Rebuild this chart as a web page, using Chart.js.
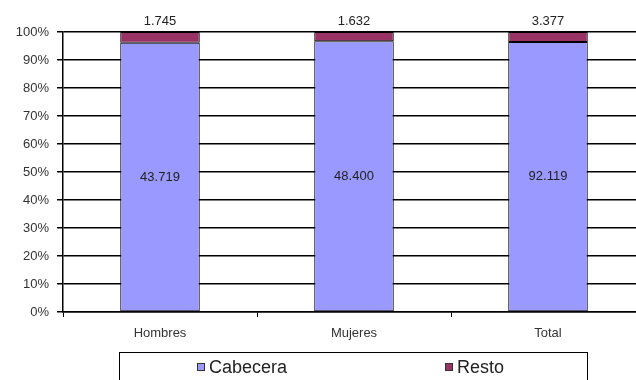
<!DOCTYPE html>
<html>
<head>
<meta charset="utf-8">
<script src="https://cdn.jsdelivr.net/npm/chart.js@4.4.1/dist/chart.umd.min.js"></script>
<style>
    html, body { margin: 0; padding: 0; background: #fff; overflow: hidden; }
    canvas { display: block; }
</style>
</head>
<body>
<canvas id="chartPoblacion" width="660" height="380"></canvas>
<script>
const categorias = ['Hombres', 'Mujeres', 'Total'];
const cabecera = [43719, 48400, 92119];
const resto = [1745, 1632, 3377];
const ticksY = [0, 10, 20, 30, 40, 50, 60, 70, 80, 90, 100];

const fuente = '"Liberation Sans", Arial, sans-serif';

function formatoMiles(n) {
    return String(n).replace(/\B(?=(\d{3})+(?!\d))/g, '.');
}

function porcentaje(serie) {
    return serie.map((v, i) => v / (cabecera[i] + resto[i]) * 100);
}

// etiquetas de valor: cabecera al centro, resto encima de la barra
const etiquetasPlugin = {
    id: 'etiquetas',
    afterDatasetsDraw(chart) {
        const ctx = chart.ctx;
        ctx.save();
        ctx.font = '13px ' + fuente;
        ctx.fillStyle = '#222';
        ctx.textAlign = 'center';
        ctx.textBaseline = 'middle';
        chart.getDatasetMeta(0).data.forEach((bar, i) => {
            ctx.fillText(formatoMiles(cabecera[i]), bar.x, (bar.y + bar.base) / 2);
        });
        chart.getDatasetMeta(1).data.forEach((bar, i) => {
            ctx.fillText(formatoMiles(resto[i]), bar.x, bar.y - 11);
        });
        ctx.restore();
    }
};

// leyenda con recuadro, como en el original
const leyendaPlugin = {
    id: 'leyendaCaja',
    afterDraw(chart) {
        const ctx = chart.ctx;
        ctx.save();
        ctx.fillStyle = '#fff';
        ctx.fillRect(119.5, 352.5, 468, 60);
        ctx.strokeStyle = '#000';
        ctx.lineWidth = 1;
        ctx.strokeRect(119.5, 352.5, 468, 60);

        const items = [
            { x: 197, texto: 'Cabecera', color: '#9999FF' },
            { x: 445, texto: 'Resto', color: '#993366' }
        ];
        ctx.font = '18px ' + fuente;
        ctx.textBaseline = 'middle';
        ctx.textAlign = 'left';
        items.forEach(it => {
            ctx.fillStyle = it.color;
            ctx.fillRect(it.x + 0.5, 363.5, 7, 7);
            ctx.strokeStyle = '#333';
            ctx.strokeRect(it.x + 0.5, 363.5, 7, 7);
            ctx.fillStyle = '#222';
            ctx.fillText(it.texto, it.x + 12, 368);
        });
        ctx.restore();
    }
};

new Chart(document.getElementById('chartPoblacion'), {
    type: 'bar',
    data: {
        labels: categorias,
        datasets: [
            {
                label: 'Cabecera',
                data: porcentaje(cabecera),
                backgroundColor: '#9999FF',
                borderColor: '#000',
                borderWidth: 1,
                borderSkipped: false
            },
            {
                label: 'Resto',
                data: porcentaje(resto),
                backgroundColor: '#993366',
                borderColor: '#000',
                borderWidth: 1,
                borderSkipped: false
            }
        ]
    },
    options: {
        responsive: false,
        animation: false,
        layout: { padding: { left: 0, top: 32, right: 15, bottom: 0 } },
        datasets: {
            bar: { categoryPercentage: 1, barPercentage: 0.41 }
        },
        plugins: {
            legend: { display: false },
            tooltip: { enabled: false }
        },
        scales: {
            x: {
                stacked: true,
                offset: true,
                border: { color: '#000', width: 1.5 },
                grid: { offset: true, drawOnChartArea: false, drawTicks: true, tickLength: 5, color: '#000', lineWidth: 1 },
                ticks: { font: { family: fuente, size: 13 }, color: '#333', padding: 9 },
                afterFit: scale => { scale.height = 68; }
            },
            y: {
                stacked: true,
                min: 0,
                max: 100,
                afterBuildTicks: scale => { scale.ticks = ticksY.map(v => ({ value: v })); },
                border: { color: '#000', width: 1.5 },
                grid: { color: '#000', lineWidth: 1.5, drawTicks: true, tickLength: 6 },
                ticks: {
                    font: { family: fuente, size: 13 },
                    color: '#333',
                    padding: 8,
                    callback: v => v + '%'
                },
                afterFit: scale => { scale.width = 63; }
            }
        }
    },
    plugins: [etiquetasPlugin, leyendaPlugin]
});
</script>
</body>
</html>
